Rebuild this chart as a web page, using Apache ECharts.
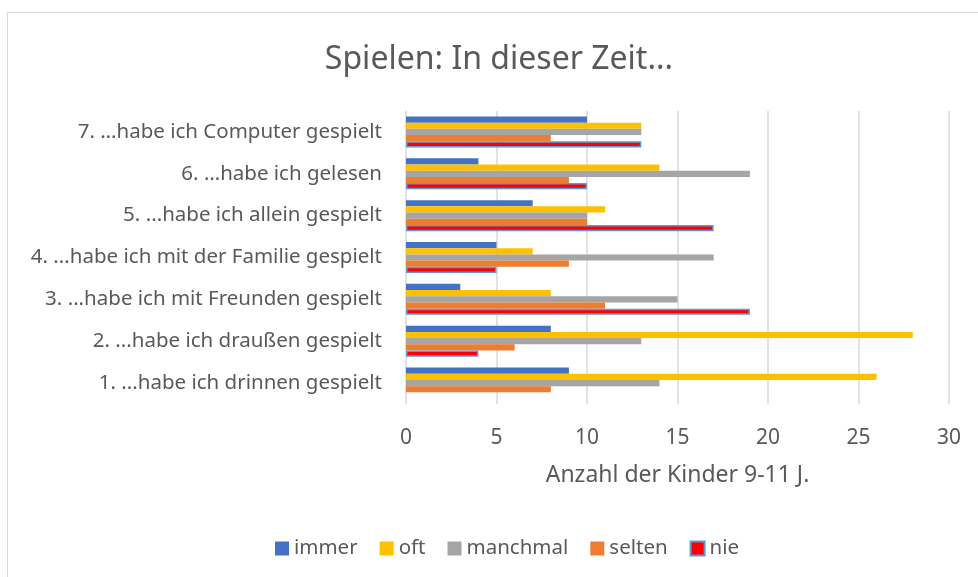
<!DOCTYPE html>
<html>
<head>
<meta charset="utf-8">
<script src="https://cdn.jsdelivr.net/npm/echarts@6/dist/echarts.min.js"></script>
<style>
html,body{margin:0;padding:0;background:#fff;}
#frame{position:absolute;left:7px;top:12px;width:1000px;height:600px;border-left:1.5px solid #D9D9D9;border-top:1.5px solid #D9D9D9;}
#chart{position:absolute;left:0;top:0;width:978px;height:577px;}
</style>
</head>
<body>
<div id="frame"></div>
<div id="chart"></div>
<script>
const categories = [
  "1. ...habe ich drinnen gespielt",
  "2. ...habe ich draußen gespielt",
  "3. ...habe ich mit Freunden gespielt",
  "4. ...habe ich mit der Familie gespielt",
  "5. ...habe ich allein gespielt",
  "6. …habe ich gelesen",
  "7. …habe ich Computer gespielt"
];
const seriesNames = ["immer", "oft", "manchmal", "selten", "nie"];
const immer    = [9, 8, 3, 5, 7, 4, 10];
const oft      = [26, 28, 8, 7, 11, 14, 13];
const manchmal = [14, 13, 15, 17, 10, 19, 13];
const selten   = [8, 6, 11, 9, 10, 9, 8];
const nie      = [0, 4, 19, 5, 17, 10, 13];
const xTicks = [0, 5, 10, 15, 20, 25, 30];

const values = [immer, oft, manchmal, selten, nie];
const colors = ["#4472C4", "#FFC000", "#A5A5A5", "#ED7D31", "#FF0000"];
const borders = [null, null, null, null, "#5B9BD5"];

const FONT = "Noto Sans";
const chart = echarts.init(document.getElementById('chart'), null, {renderer: 'canvas'});
const series = seriesNames.map((n, i) => ({
  name: n,
  type: 'bar',
  data: values[i].map(v => v === 0 ? '-' : v),
  barGap: '0%',
  barCategoryGap: '26%',
  itemStyle: borders[i] ? {color: colors[i], borderColor: borders[i], borderWidth: 1.5} : {color: colors[i]},
  emphasis: {disabled: true}
}));
chart.setOption({
  animation: false,
  title: {
    text: "Spielen: In dieser Zeit...",
    left: 494, top: 39, textAlign: 'center',
    textStyle: {fontFamily: FONT, fontSize: 32, fontWeight: 'normal', color: '#595959'}
  },
  legend: {
    data: seriesNames,
    left: 270, top: 533,
    itemWidth: 14, itemHeight: 14, itemGap: 22,
    textStyle: {fontFamily: FONT, fontSize: 20.5, color: '#595959'},
    icon: 'rect'
  },
  grid: {left: 406, right: 29, top: 111, bottom: 173, containLabel: false},
  xAxis: {
    type: 'value', min: 0, max: 30, interval: 5,
    name: "Anzahl der Kinder 9-11 J.", nameLocation: 'middle', nameGap: 60,
    nameTextStyle: {fontFamily: FONT, fontSize: 23, color: '#595959'},
    axisLine: {show: false}, axisTick: {show: false},
    axisLabel: {fontFamily: FONT, fontSize: 21, color: '#595959', margin: 24,
      formatter: v => xTicks.includes(v) ? String(v) : ''},
    splitLine: {lineStyle: {color: '#D9D9D9', width: 1.5}}
  },
  yAxis: {
    type: 'category', data: categories,
    axisLine: {show: false}, axisTick: {show: false},
    axisLabel: {fontFamily: FONT, fontSize: 20.5, color: '#595959', margin: 24}
  },
  series: series
});
</script>
</body>
</html>
